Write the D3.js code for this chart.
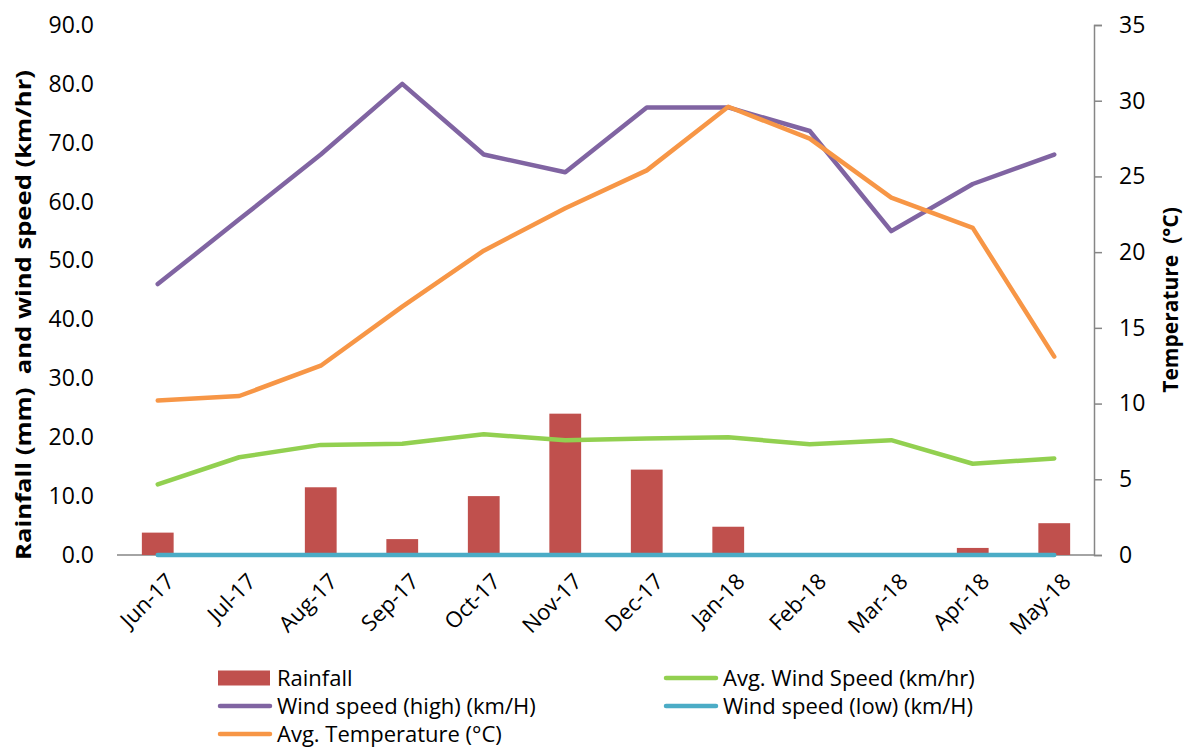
<!DOCTYPE html>
<html><head><meta charset="utf-8">
<script src="https://cdn.jsdelivr.net/npm/d3@7"></script>
<style>body{margin:0;background:#fff}svg{display:block}text{font-family:"Open Sans",sans-serif;white-space:pre}</style>
</head><body><svg id="c" width="1186" height="749"></svg>
<script>
const months = ["Jun-17","Jul-17","Aug-17","Sep-17","Oct-17","Nov-17","Dec-17","Jan-18","Feb-18","Mar-18","Apr-18","May-18"];
const rainfall = [3.8,0,11.5,2.7,10.0,24.0,14.5,4.8,0,0,1.2,5.4];
const windHigh = [46,57,68,80,68,65,76,76,72,55,63,68];
const windAvg = [12.0,16.6,18.7,18.9,20.5,19.5,19.8,20.0,18.8,19.5,15.5,16.4];
const windLow = [0,0,0,0,0,0,0,0,0,0,0,0];
const avgTemp = [10.2,10.5,12.5,16.4,20.1,22.9,25.4,29.6,27.5,23.6,21.6,13.1];
const leftTicks = [0,10,20,30,40,50,60,70,80,90];
const rightTicks = [0,5,10,15,20,25,30,35];

const FONT = '"Open Sans"';
const svg = d3.select("#c");
const L=117, R=1095, T=25, B=555;
const x = d3.scaleBand().domain(months).range([L,R]).paddingInner(0.61).paddingOuter(0.305);
const xc = d => x(d)+x.bandwidth()/2;
const yL = d3.scaleLinear().domain([0,90]).range([B,T]);
const yR = d3.scaleLinear().domain([0,35]).range([B,T]);

// left axis labels
const la = svg.append("g").attr("transform",`translate(${L},0)`)
  .call(d3.axisLeft(yL).tickValues(leftTicks).tickFormat(d3.format(".1f")).tickSize(0).tickPadding(23));
la.select(".domain").remove();
la.selectAll("text").attr("font-size",23).attr("fill","#000").style("font-family",FONT);

// right axis
const ra = svg.append("g").attr("transform",`translate(${R-1},0)`)
  .call(d3.axisRight(yR).tickValues(rightTicks).tickSize(8).tickPadding(17));
ra.select(".domain").attr("stroke","#868686").attr("stroke-width",1.5);
ra.selectAll(".tick line").attr("stroke","#868686").attr("stroke-width",1.5);
ra.selectAll("text").attr("font-size",23).attr("fill","#000").style("font-family",FONT);

// baseline
svg.append("line").attr("x1",L).attr("x2",R-1).attr("y1",B).attr("y2",B).attr("stroke","#868686").attr("stroke-width",1.5);

// bars
svg.append("g").selectAll("rect").data(rainfall).join("rect")
  .attr("x",(d,i)=>x(months[i])).attr("width",x.bandwidth())
  .attr("y",d=>yL(d)).attr("height",d=>B-yL(d)).attr("fill","#C0504D");

function line(vals, scale, color){
  const g = d3.line().x((d,i)=>xc(months[i])).y(d=>scale(d));
  svg.append("path").datum(vals).attr("d",g).attr("fill","none").attr("stroke",color)
    .attr("stroke-width",4.5).attr("stroke-linejoin","round").attr("stroke-linecap","round");
}
line(windAvg,yL,"#92D050");
line(windHigh,yL,"#8064A2");
line(windLow,yL,"#4BACC6");
line(avgTemp,yR,"#F79646");

// x labels
const xa = svg.append("g");
months.forEach(m=>{
  xa.append("text").attr("transform",`translate(${xc(m)+7},${B+17}) rotate(-45)`)
    .attr("text-anchor","end").attr("dy","0.7em").attr("font-size",22).text(m);
});

// axis titles
svg.append("text").attr("transform",`translate(31,315) rotate(-90)`).attr("text-anchor","middle")
  .attr("font-size",22).attr("font-weight","bold")
  .attr("textLength",490).attr("lengthAdjust","spacingAndGlyphs")
  .text("Rainfall (mm)  and wind speed (km/hr)");
svg.append("text").attr("transform",`translate(1178,300) rotate(-90)`).attr("text-anchor","middle")
  .attr("font-size",21).attr("font-weight","bold").text("Temperature  (°C)");

// legend
const leg = [
  {name:"Rainfall",type:"bar",color:"#C0504D",x:218,y:678},
  {name:"Avg. Wind Speed (km/hr)",type:"line",color:"#92D050",x:664,y:678},
  {name:"Wind speed (high) (km/H)",type:"line",color:"#8064A2",x:218,y:706},
  {name:"Wind speed (low) (km/H)",type:"line",color:"#4BACC6",x:664,y:706},
  {name:"Avg. Temperature (°C)",type:"line",color:"#F79646",x:218,y:734}
];
leg.forEach(l=>{
  if(l.type==="bar") svg.append("rect").attr("x",l.x).attr("y",l.y-7.5).attr("width",52).attr("height",15).attr("fill",l.color);
  else svg.append("line").attr("x1",l.x+2).attr("x2",l.x+52).attr("y1",l.y).attr("y2",l.y).attr("stroke",l.color).attr("stroke-width",4.5).attr("stroke-linecap","round");
  svg.append("text").attr("x",l.x+59).attr("y",l.y).attr("dy","0.35em").attr("font-size",22).text(l.name);
});
</script></body></html>
